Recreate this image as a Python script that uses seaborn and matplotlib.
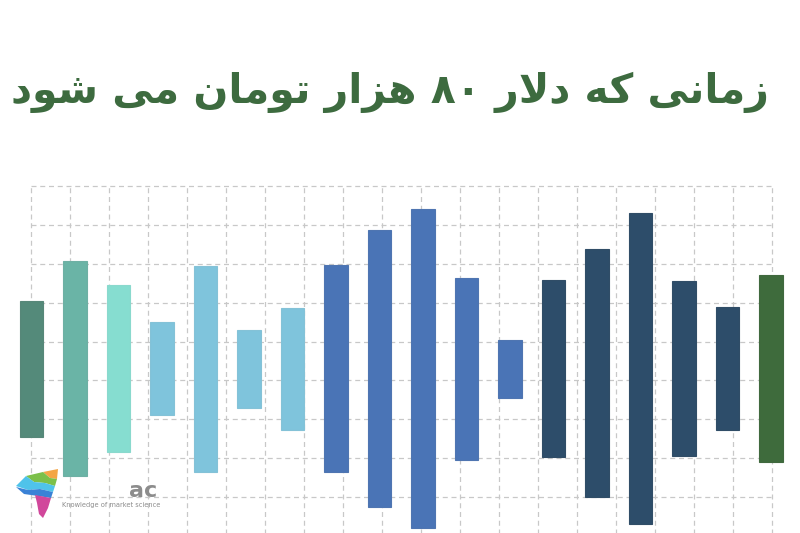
import matplotlib
matplotlib.use("Agg")
import matplotlib.pyplot as plt
from matplotlib.patches import Polygon
import numpy as np
import seaborn as sns

# chart data (grid units, 0 = bottom)
title = "زمانی که دلار ۸۰ هزار تومان می شود"
bar_low = [2.55, 1.54, 2.16, 3.11, 1.65, 3.29, 2.73, 1.64, 0.74, 0.20,
           1.95, 3.56, 2.04, 1.01, 0.32, 2.06, 2.72, 1.89]
bar_high = [6.05, 7.07, 6.45, 5.49, 6.95, 5.30, 5.87, 6.97, 7.86, 8.40,
            6.64, 5.04, 6.57, 7.37, 8.30, 6.56, 5.88, 6.71]
bar_colors = ["#548A7A", "#6AB4A6", "#86DDD0", "#7FC4DC", "#7FC4DC", "#7FC4DC",
              "#7FC4DC", "#4A74B6", "#4A74B6", "#4A74B6", "#4A74B6", "#4A74B6",
              "#2D4D6A", "#2D4D6A", "#2D4D6A", "#2D4D6A", "#2D4D6A", "#3E6B3C"]

# matplotlib does no arabic shaping, so do a small one here
FORMS = {
    'ا': ('\uFE8D', '\uFE8E'), 'د': ('\uFEA9', '\uFEAA'),
    'ر': ('\uFEAD', '\uFEAE'), 'ز': ('\uFEAF', '\uFEB0'),
    'و': ('\uFEED', '\uFEEE'),
    'م': ('\uFEE1', '\uFEE2', '\uFEE3', '\uFEE4'),
    'ن': ('\uFEE5', '\uFEE6', '\uFEE7', '\uFEE8'),
    'ت': ('\uFE95', '\uFE96', '\uFE97', '\uFE98'),
    'ش': ('\uFEB5', '\uFEB6', '\uFEB7', '\uFEB8'),
    'ل': ('\uFEDD', '\uFEDE', '\uFEDF', '\uFEE0'),
    'ه': ('\uFEE9', '\uFEEA', '\uFEEB', '\uFEEC'),
    'ی': ('\uFEEF', '\uFEF0', '\uFBFE', '\uFBFF'),
    'ک': ('\uFB8E', '\uFB8F', '\uFB90', '\uFB91'),
}


def shape(s):
    out = []
    i = 0
    n = len(s)
    while i < n:
        c = s[i]
        if c not in FORMS:
            out.append(c)
            i += 1
            continue
        prev = s[i - 1] if i > 0 else ''
        joins_prev = prev in FORMS and len(FORMS[prev]) == 4
        if c == 'ل' and i + 1 < n and s[i + 1] == 'ا':
            out.append('\uFEFC' if joins_prev else '\uFEFB')
            i += 2
            continue
        nxt = s[i + 1] if i + 1 < n else ''
        joins_next = len(FORMS[c]) == 4 and nxt in FORMS
        f = FORMS[c]
        if joins_prev and joins_next:
            out.append(f[3])
        elif joins_prev:
            out.append(f[1])
        elif joins_next:
            out.append(f[2])
        else:
            out.append(f[0])
        i += 1
    # visual order: reverse, keep digit runs left to right
    runs = []
    for ch in out:
        if ch.isdigit() and runs and runs[-1][0].isdigit():
            runs[-1] += ch
        else:
            runs.append(ch)
    return ''.join(runs[::-1])


sns.set_theme(style="white")
plt.rcParams['font.family'] = ['DejaVu Sans']

fig = plt.figure(figsize=(8, 5.33), dpi=100)
fig.patch.set_facecolor("white")

# axes covers px 180..533 vertically, full width
ax = fig.add_axes([0, 0, 1, (533 - 180) / 533])
x = np.arange(len(bar_low))
step = 39.0 / 43.5
grid_x = np.arange(20) * step
ax.set_xlim(-31.4 / 43.5, (800 - 31.4) / 43.5)
ax.set_ylim((536 - 533) / 38.9, (536 - 180) / 38.9)

ax.vlines(grid_x, -1, 9, colors="#c8c8c8", linestyles=(0, (4, 3)), linewidth=0.9, zorder=1)
ax.hlines(np.arange(1, 10), grid_x[0], grid_x[-1], colors="#c8c8c8",
          linestyles=(0, (4, 3)), linewidth=0.9, zorder=1)

heights = [h - l for l, h in zip(bar_low, bar_high)]
edge = [sns.desaturate(c, 0.9) for c in bar_colors]
ax.bar(x, heights, bottom=bar_low, width=23.3 / 43.5, color=bar_colors,
       edgecolor=edge, linewidth=0.8, zorder=2)
ax.axis("off")

fig.text(0.487, 1 - 92 / 533, shape(title), ha="center", va="center",
         fontsize=29.5, fontweight="bold", color="#3D6B3F")

# logo overlay in pixel coords
lg = fig.add_axes([0, 0, 1, 1], zorder=5)
lg.set_xlim(0, 800)
lg.set_ylim(533, 0)
lg.axis("off")
logo = [
    ("#F4A545", [(43, 472), (58, 469), (57, 479), (50, 478)]),
    ("#7CC04A", [(26, 476), (43, 472), (50, 478), (57, 479), (55, 486), (45, 483), (34, 482)]),
    ("#4FC3EA", [(16, 486), (26, 476), (34, 482), (45, 483), (55, 486), (53, 492), (40, 489), (28, 490)]),
    ("#3A82D6", [(16, 487), (28, 490), (40, 489), (53, 492), (51, 498), (38, 496), (24, 494)]),
    ("#D1479B", [(35, 495), (51, 498), (48, 508), (43, 518), (39, 514), (37, 503)]),
]
for col, pts in logo:
    lg.add_patch(Polygon(pts, closed=True, facecolor=col, edgecolor="none"))
lg.text(143, 497, "ac", ha="center", va="baseline", fontsize=16,
        fontweight="bold", color="#8c8c8c")
lg.text(111, 507, "Knowledge of market science", ha="center", va="baseline",
        fontsize=4.8, color="#8c8c8c")

fig.savefig("out.png", dpi=100)
